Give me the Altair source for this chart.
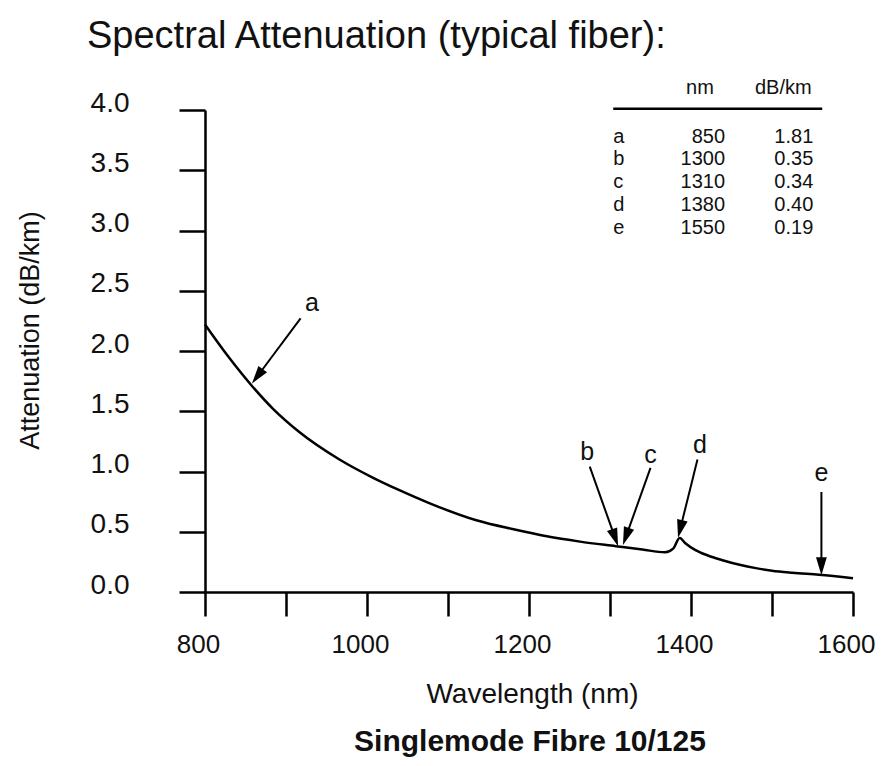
import math
import altair as alt
import pandas as pd

# ---- data ----
wavelength = [800, 828, 858, 884, 916, 966, 1007, 1040, 1076, 1135, 1181, 1222, 1263, 1307,
              1340, 1368, 1378, 1386, 1393, 1405, 1420, 1440, 1460, 1480, 1500, 1525, 1558, 1600]
attenuation = [2.22, 1.96, 1.71, 1.52, 1.33, 1.10, 0.95, 0.845, 0.74, 0.595, 0.52, 0.462, 0.418, 0.38,
               0.352, 0.33, 0.36, 0.448, 0.405, 0.35, 0.305, 0.262, 0.226, 0.198, 0.177, 0.160, 0.143, 0.115]

point_letters = ["a", "b", "c", "d", "e"]
point_nm = [850, 1300, 1310, 1380, 1550]
point_db = ["1.81", "0.35", "0.34", "0.40", "0.19"]

# arrow annotations (data coordinates)
arrow_label_x = [932, 1272, 1350, 1411, 1561]
arrow_label_y = [2.40, 1.16, 1.14, 1.22, 0.99]
arrow_tail_x = [918, 1275, 1350, 1408, 1561]
arrow_tail_y = [2.27, 1.04, 1.03, 1.10, 0.83]
arrow_tip_x = [858, 1310, 1316, 1384, 1561]
arrow_tip_y = [1.73, 0.38, 0.39, 0.45, 0.14]

x_ticks = list(range(800, 1601, 100))
y_ticks = [0, 0.5, 1.0, 1.5, 2.0, 2.5, 3.0, 3.5, 4.0]

TITLE = "Spectral Attenuation (typical fiber):"
SUBTITLE = "Singlemode Fibre 10/125"
X_TITLE = "Wavelength (nm)"
Y_TITLE = "Attenuation (dB/km)"

# ---- layout ----
W, H = 648, 482
X0, X1 = 800, 1600
Y0, Y1 = 0, 4
PX_NM = W / (X1 - X0)
PX_DB = H / (Y1 - Y0)
FONT = "Liberation Sans"

xs = alt.Scale(domain=[X0, X1], nice=False, zero=False)
ys = alt.Scale(domain=[Y0, Y1], nice=False, zero=False)

curve_df = pd.DataFrame({"wavelength": wavelength, "attenuation": attenuation})

# arrows: shaft ends a bit before tip; head angle from pixel direction
rows = []
for i, L in enumerate(point_letters):
    dxp = (arrow_tip_x[i] - arrow_tail_x[i]) * PX_NM
    dyp = -(arrow_tip_y[i] - arrow_tail_y[i]) * PX_DB  # screen y down
    ln = math.hypot(dxp, dyp)
    back = 10.0
    ex = arrow_tip_x[i] - (dxp / ln) * back / PX_NM
    ey = arrow_tip_y[i] + (dyp / ln) * back / PX_DB
    ang = math.degrees(math.atan2(-dxp, dyp)) % 360
    rows.append(dict(letter=L, lx=arrow_label_x[i], ly=arrow_label_y[i],
                     tx=arrow_tail_x[i], ty=arrow_tail_y[i], ex=ex, ey=ey,
                     hx=arrow_tip_x[i], hy=arrow_tip_y[i], ang=ang))
arrows_df = pd.DataFrame(rows)

x_axis = alt.Axis(values=x_ticks, format="d",
                  labelExpr="datum.value % 200 == 0 ? datum.label : ''",
                  grid=False, tickSize=24, tickWidth=2.5, domainWidth=2.5,
                  tickColor="black", domainColor="black", labelColor="#111",
                  labelFont=FONT, labelFontSize=26, labelPadding=15, labelOffset=-7,
                  labelFlush=False, labelOverlap=False, labelBound=False,
                  title=X_TITLE, titleFont=FONT, titleFontSize=28, titleFontWeight="normal",
                  titleColor="#111", titleX=327, titleY=102, titleBaseline="middle",
                  titleAlign="center")
y_axis = alt.Axis(values=y_ticks, format=".1f",
                  grid=False, tickSize=26, tickWidth=2.5, domainWidth=2.5,
                  tickColor="black", domainColor="black", labelColor="#111",
                  labelFont=FONT, labelFontSize=28, labelPadding=50, labelOffset=-7,
                  labelFlush=False, labelOverlap=False, labelBound=False,
                  title=Y_TITLE, titleFont=FONT, titleFontSize=27, titleFontWeight="normal",
                  titleColor="#111", titleX=-175, titleY=220, titleAngle=270,
                  titleBaseline="middle", titleAlign="center")

curve = alt.Chart(curve_df).mark_line(
    color="black", strokeWidth=2.5, interpolate="monotone"
).encode(
    x=alt.X("wavelength:Q", scale=xs, axis=x_axis),
    y=alt.Y("attenuation:Q", scale=ys, axis=y_axis),
)

shafts = alt.Chart(arrows_df).mark_rule(color="black", strokeWidth=2).encode(
    x=alt.X("tx:Q", scale=xs), y=alt.Y("ty:Q", scale=ys), x2="ex:Q", y2="ey:Q"
)
heads = alt.Chart(arrows_df).mark_point(
    shape="M0,0 L-0.3,-1 L0.3,-1 Z", filled=True, color="black", opacity=1, size=1296
).encode(
    x=alt.X("hx:Q", scale=xs), y=alt.Y("hy:Q", scale=ys), angle=alt.Angle("ang:Q", scale=None)
)
arrow_labels = alt.Chart(arrows_df).mark_text(
    font=FONT, fontSize=25, color="#111", baseline="middle", align="center"
).encode(
    x=alt.X("lx:Q", scale=xs), y=alt.Y("ly:Q", scale=ys), text="letter:N"
)

# ---- inset table ----
row_step = 0.19
table_df = pd.DataFrame({
    "letter": point_letters,
    "nm": [str(v) for v in point_nm],
    "db": point_db,
    "row": list(range(len(point_letters))),
})
table_df["ty"] = 3.78 - table_df["row"] * row_step
table_df["lxp"] = 1304
table_df["nxp"] = 1442
table_df["dxp"] = 1551

t_letters = alt.Chart(table_df).mark_text(font=FONT, fontSize=20, color="#111", align="left", baseline="middle").encode(
    x=alt.X("lxp:Q", scale=xs), y=alt.Y("ty:Q", scale=ys), text="letter:N")
t_nm = alt.Chart(table_df).mark_text(font=FONT, fontSize=20, color="#111", align="right", baseline="middle").encode(
    x=alt.X("nxp:Q", scale=xs), y=alt.Y("ty:Q", scale=ys), text="nm:N")
t_db = alt.Chart(table_df).mark_text(font=FONT, fontSize=20, color="#111", align="right", baseline="middle").encode(
    x=alt.X("dxp:Q", scale=xs), y=alt.Y("ty:Q", scale=ys), text="db:N")

header_df = pd.DataFrame({"h": ["nm", "dB/km"], "hx": [1411, 1514], "hy": [4.18, 4.18]})
t_head = alt.Chart(header_df).mark_text(font=FONT, fontSize=20, color="#111", align="center", baseline="middle").encode(
    x=alt.X("hx:Q", scale=xs), y=alt.Y("hy:Q", scale=ys), text="h:N")
line_df = pd.DataFrame({"x1": [1304], "x2": [1562], "y": [4.01]})
t_line = alt.Chart(line_df).mark_rule(color="black", strokeWidth=2.5).encode(
    x=alt.X("x1:Q", scale=xs), x2="x2:Q", y=alt.Y("y:Q", scale=ys))

# ---- titles as text ----
title_df = pd.DataFrame({"t": [TITLE]})
title_mark = alt.Chart(title_df).mark_text(
    font=FONT, fontSize=38, color="#111", align="left", baseline="alphabetic"
).encode(x=alt.value(-118), y=alt.value(-62), text="t:N")
sub_df = pd.DataFrame({"t": [SUBTITLE]})
sub_mark = alt.Chart(sub_df).mark_text(
    font=FONT, fontSize=30, fontWeight="bold", color="#111", align="center", baseline="alphabetic"
).encode(x=alt.value(325), y=alt.value(641), text="t:N")

chart = alt.layer(
    curve, shafts, heads, arrow_labels, t_line, t_head, t_letters, t_nm, t_db, title_mark, sub_mark
).properties(
    width=W, height=H, autosize="none",
    padding={"left": 197, "top": 102, "right": 22, "bottom": 166},
    background="white",
).configure_view(stroke=None)

chart.save("out.html", embed_options={"renderer": "svg", "actions": False})
